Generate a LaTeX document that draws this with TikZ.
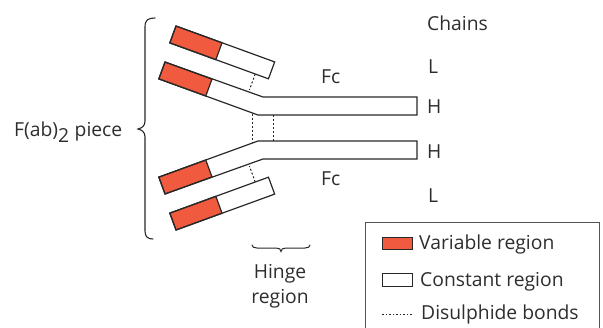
\documentclass[tikz,border=0pt]{standalone}
\usepackage{fontspec}
\setmainfont{Open Sans}
\definecolor{varred}{RGB}{240,90,62}
\definecolor{ink}{RGB}{40,40,40}
\definecolor{txt}{RGB}{45,45,45}
\tikzset{
  chain/.style={draw=ink, line width=1.2pt, line join=miter},
  varpart/.style={draw=ink, line width=1.2pt, fill=varred},
  bond/.style={draw=ink, line width=1pt, dash pattern=on 2pt off 2pt},
  lbl/.style={text=txt, inner sep=0pt, font=\fontsize{19.3}{23}\selectfont},
  brace/.style={draw=ink, line width=1.1pt, line cap=round},
  legendbox/.style={draw=ink!80, line width=1pt}
}
\begin{document}
\begin{tikzpicture}[x=1pt,y=-1pt]
\useasboundingbox (0,0) rectangle (603,327);
% direction vectors
\def\ux{0.9397}\def\uy{0.3420}
% ---- upper light chain
\coordinate (ulA) at (176,26);
\path[varpart] (ulA) -- ++(49*\ux,49*\uy) -- ++(-6.2,16.9) -- ++(-49*\ux,-49*\uy) -- cycle;
\draw[chain] (ulA) -- ++(105*\ux,105*\uy) -- ++(-6.2,16.9) -- ++(-105*\ux,-105*\uy) -- cycle;
% ---- upper heavy chain
\coordinate (uhA) at (165,62);
\path[varpart] (uhA) -- ++(50*\ux,50*\uy) -- ++(-6.2,16.9) -- ++(-50*\ux,-50*\uy) -- cycle;
\draw[chain] (uhA) -- (263,97) -- (417,97) -- (417,115) -- (258,115) -- (158.8,78.9) -- cycle;
% ---- lower heavy chain (mirror about y=128)
\coordinate (lhA) at (165,194);
\path[varpart] (lhA) -- ++(50*\ux,-50*\uy) -- ++(-6.2,-16.9) -- ++(-50*\ux,50*\uy) -- cycle;
\draw[chain] (lhA) -- (263,159) -- (417,159) -- (417,141) -- (258,141) -- (158.8,177.1) -- cycle;
% ---- lower light chain
\coordinate (llA) at (176,230);
\path[varpart] (llA) -- ++(49*\ux,-49*\uy) -- ++(-6.2,-16.9) -- ++(-49*\ux,49*\uy) -- cycle;
\draw[chain] (llA) -- ++(105*\ux,-105*\uy) -- ++(-6.2,-16.9) -- ++(-105*\ux,105*\uy) -- cycle;
% ---- disulphide bonds
\coordinate (b1a) at (255.2,74.0);
\coordinate (b1b) at (249.4,90.0);
\draw[bond] (b1a) -- (b1b);
\coordinate (b2a) at (255.2,182.0);
\coordinate (b2b) at (249.4,166.0);
\draw[bond] (b2a) -- (b2b);
\coordinate (h1a) at (252,113.5);
\coordinate (h1b) at (252,142.5);
\draw[bond] (h1a) -- (h1b);
\coordinate (h2a) at (273,115);
\coordinate (h2b) at (273,141);
\draw[bond] (h2a) -- (h2b);
% ---- left brace
\draw[brace] (155,18) .. controls (148,18) and (145,20) .. (145,27)
  -- (145,121) .. controls (145,126) and (142,128) .. (138,129)
  .. controls (142,130) and (145,132) .. (145,137)
  -- (145,231) .. controls (145,237) and (148,239) .. (153,239);
% ---- hinge brace
\draw[brace, line width=1pt] (252,245) .. controls (252,247) and (254,248) .. (257,248)
  -- (276,248) .. controls (279,248) and (281,249) .. (281,251.5)
  .. controls (281,249) and (283,248) .. (286,248)
  -- (305,248) .. controls (308,248) and (310,247) .. (310,245);
% ---- labels
\node[lbl, anchor=base west] (chains) at (427,30) {Chains};
\node[lbl, anchor=base west] (L1) at (428,73) {L};
\node[lbl, anchor=base west] (H1) at (427,113) {H};
\node[lbl, anchor=base west] (H2) at (427,158) {H};
\node[lbl, anchor=base west] (L2) at (428,202) {L};
\node[lbl, anchor=base west] (fc1) at (321,83) {Fc};
\node[lbl, anchor=base west] (fc2) at (321,185) {Fc};
\node[lbl, anchor=base west] (fab) at (14,136) {F(ab)$_{\textrm{2}}$ piece};
\node[lbl, anchor=base] (hinge) at (280,278) {Hinge};
\node[lbl, anchor=base] (region) at (280,303) {region};
% ---- legend
\draw[legendbox] (365,328) -- (365,222) -- (599,222) -- (599,328);
\path[varpart, line width=1pt] (382,237) rectangle (412,249.5);
\path[chain, line width=1pt] (382,273.5) rectangle (412,286);
\coordinate (dl1) at (382,314);
\coordinate (dl2) at (412,314);
\draw[bond, line width=0.9pt, dash pattern=on 1.5pt off 2pt] (dl1) -- (dl2);
\node[lbl, anchor=base west] (lv) at (419,249) {Variable region};
\node[lbl, anchor=base west] (lc) at (420,286) {Constant region};
\node[lbl, anchor=base west] (ld) at (421,319) {Disulphide bonds};
\end{tikzpicture}
\end{document}
